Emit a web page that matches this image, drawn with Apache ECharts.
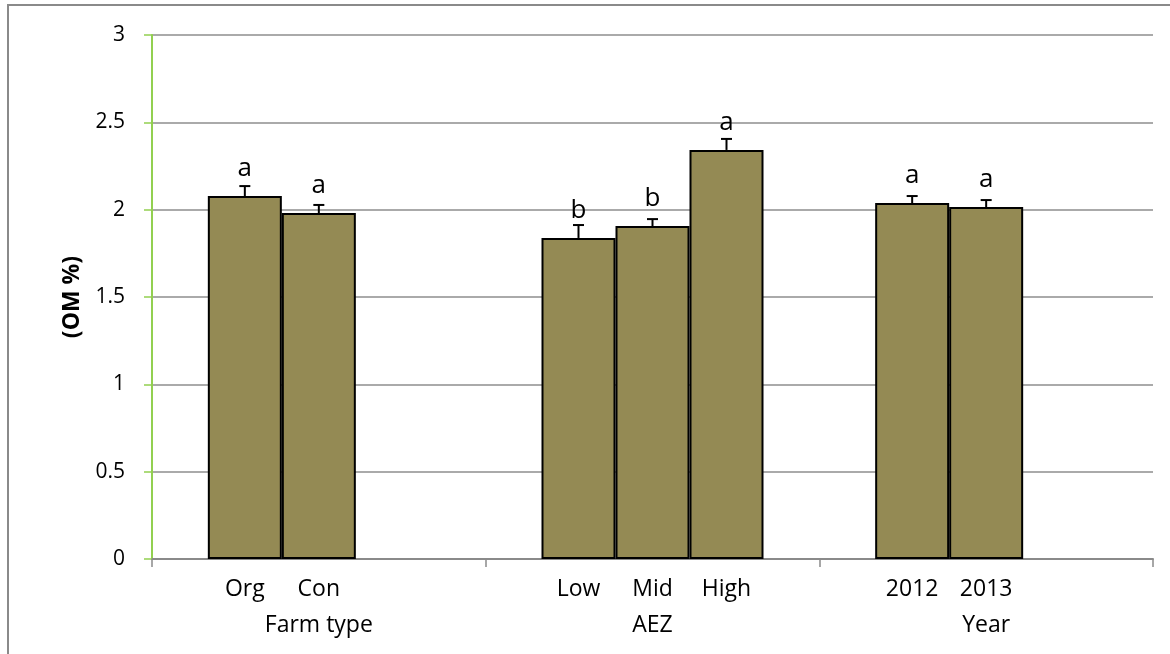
<!DOCTYPE html>
<html>
<head>
<meta charset="utf-8">
<title>(OM %)</title>
<script src="https://cdn.jsdelivr.net/npm/echarts@6/dist/echarts.min.js"></script>
<style>
  html, body { margin: 0; padding: 0; background: #fff; }
  #wrap { position: relative; width: 1170px; height: 654px; overflow: hidden; }
  #frame { position: absolute; left: 7px; top: 4px; width: 1200px; height: 700px;
           border-left: 2px solid #8a8a8a; border-top: 2px solid #8a8a8a; }
  #chart { position: absolute; left: 0; top: 0; width: 1170px; height: 654px; }
</style>
</head>
<body>
<div id="wrap">
  <div id="frame"></div>
  <div id="chart"></div>
</div>
<script>
// Groups on the category axis
const categories = ['Farm type', 'AEZ', 'Year'];

// Level labels under each bar, one list per bar position in a group
const subLabels1 = ['Org', 'Low', '2012'];
const subLabels2 = ['Con', 'Mid', '2013'];
const subLabels3 = [null, 'High', null];

// Mean organic matter (%)
const values1 = [2.078, 1.838, 2.038];
const values2 = [1.981, 1.906, 2.015];
const values3 = [null, 2.342, null];

// Standard errors (drawn upward)
const errors1 = [0.057, 0.074, 0.040];
const errors2 = [0.046, 0.040, 0.040];
const errors3 = [null, 0.063, null];

// Mean separation letters
const letters1 = ['a', 'b', 'a'];
const letters2 = ['a', 'b', 'a'];
const letters3 = [null, 'a', null];

// Y axis ticks
const yMin = 0, yMax = 3, yStep = 0.5;

const FONT = '"Open Sans", "Noto Sans", sans-serif';
const BAR_COLOR = '#948a54';
const BAR_WIDTH = 74;

const slots = [
  { values: values1, errors: errors1, letters: letters1, labels: subLabels1 },
  { values: values2, errors: errors2, letters: letters2, labels: subLabels2 },
  { values: values3, errors: errors3, letters: letters3, labels: subLabels3 }
];

const barSeries = slots.map((s, si) => ({
  type: 'bar',
  name: 'slot' + si,
  barWidth: BAR_WIDTH,
  barGap: '0%',
  data: s.values.map(v => v),
  itemStyle: { color: BAR_COLOR, borderColor: '#000', borderWidth: 2 },
  label: {
    show: true,
    position: ['50%', '100%'],
    offset: [0, 30],
    align: 'center',
    verticalAlign: 'middle',
    fontFamily: FONT,
    fontSize: 23,
    color: '#000',
    formatter: p => s.labels[p.dataIndex] || ''
  },
  emphasis: { disabled: true },
  silent: true,
  z: 2
}));

// Error bars and letters, one item per drawn bar
const errData = [];
slots.forEach((s, si) => {
  s.values.forEach((v, ci) => {
    if (v == null) return;
    errData.push([ci, v, s.errors[ci], si, s.letters[ci]]);
  });
});

const errSeries = {
  type: 'custom',
  silent: true,
  z: 5,
  data: errData,
  encode: { x: 0, y: 1 },
  renderItem: function (params, api) {
    const ci = api.value(0);
    const v = api.value(1);
    const e = api.value(2);
    const si = api.value(3);
    const letter = errData[params.dataIndex][4];
    const base = api.coord([ci, v]);
    const top = api.coord([ci, v + e]);
    const x = base[0] + (si - 1) * BAR_WIDTH;
    const cap = 5.5;
    const style = { stroke: '#000', lineWidth: 2, fill: null };
    return {
      type: 'group',
      children: [
        { type: 'line', shape: { x1: x, y1: base[1], x2: x, y2: top[1] }, style: style },
        { type: 'line', shape: { x1: x - cap, y1: top[1], x2: x + cap, y2: top[1] }, style: style },
        {
          type: 'text',
          style: {
            text: letter, x: x, y: base[1] - 14,
            align: 'center', verticalAlign: 'bottom',
            font: '26px ' + FONT, fill: '#000'
          }
        }
      ]
    };
  }
};

const chart = echarts.init(document.getElementById('chart'), null, { renderer: 'canvas' });
chart.setOption({
  animation: false,
  backgroundColor: 'transparent',
  grid: { left: 152, right: 17, top: 35, bottom: 95, containLabel: false },
  xAxis: {
    type: 'category',
    data: categories,
    axisLine: { show: true, lineStyle: { color: '#8a8a8a', width: 2 } },
    axisTick: { show: true, alignWithLabel: false, length: 8, lineStyle: { color: '#8a8a8a', width: 1.5 } },
    axisLabel: { margin: 55, fontFamily: FONT, fontSize: 23, color: '#000' },
    splitLine: { show: false }
  },
  yAxis: {
    type: 'value',
    min: yMin, max: yMax, interval: yStep,
    name: '(OM %)',
    nameLocation: 'middle',
    nameGap: 68,
    nameRotate: 90,
    nameTextStyle: { fontFamily: FONT, fontSize: 23, fontWeight: 'bold', color: '#000' },
    axisLine: { show: true, lineStyle: { color: '#92d050', width: 2 } },
    axisTick: { show: true, inside: false, length: 8, lineStyle: { color: '#92d050', width: 1.5 } },
    axisLabel: { margin: 27, fontFamily: FONT, fontSize: 21, color: '#000',
                 formatter: v => String(v) },
    splitLine: { show: true, lineStyle: { color: '#8e8e8e', width: 1.5 } }
  },
  series: barSeries.concat([errSeries])
});
</script>
</body>
</html>
